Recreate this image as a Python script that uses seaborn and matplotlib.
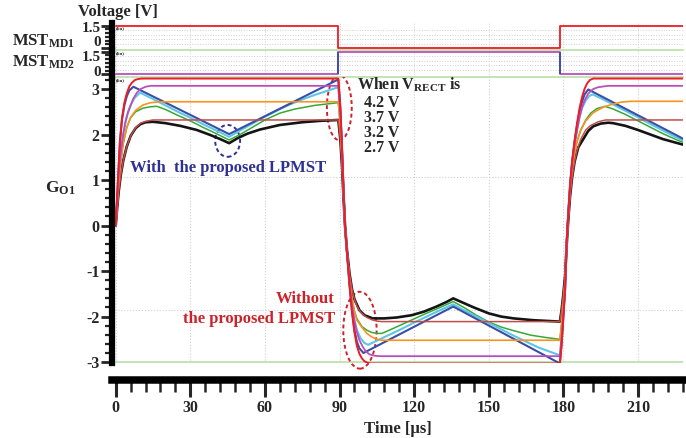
import pandas as pd
import matplotlib
matplotlib.use('Agg')
import matplotlib.pyplot as plt
from matplotlib.patches import Ellipse
from matplotlib.ticker import MultipleLocator
import seaborn as sns

# ---- data (time in us, G_O1 / voltage) ----
# without the proposed LPMST
t_red = [0, 0.5, 1, 1.7, 2.5, 3.5, 4.4, 5.5, 6.5, 7.8, 9, 10.5, 89.5,
         90.3, 91, 91.6, 92.2, 93, 94, 95, 96, 97, 98, 99, 100, 101, 102.5, 178.6,
         179.3, 180, 180.7, 181.3, 182, 182.7, 183.5, 184.5, 185.5, 186.5, 187.5, 188.5, 189.5, 190.7, 192, 228]
g_red = [0, 0.55, 1.1, 1.85, 2.35, 2.7, 2.9, 3.06, 3.14, 3.2, 3.22, 3.23, 3.23,
         2.6, 1.7, 0.8, 0.0, -0.6, -1.3, -1.9, -2.35, -2.65, -2.82, -2.92, -2.98, -3.01, -3.03, -3.03,
         -2.6, -2.0, -1.4, -0.4, 0.3, 0.9, 1.4, 1.85, 2.25, 2.58, 2.82, 3.0, 3.12, 3.2, 3.23, 3.23]

t_mag = [0, 0.6, 1.2, 2, 3, 4, 5, 5.8, 7, 8.5, 10, 12, 14, 89.5,
         90.3, 91, 91.6, 92.2, 93, 94, 95, 96, 97, 98, 99.3, 100.5, 102, 104, 106, 178.6,
         179.3, 180, 180.7, 181.3, 182, 182.7, 183.5, 184.5, 185.5, 186.5, 187.5, 188.5, 190, 192, 194, 198, 228]
g_mag = [0, 0.55, 1.1, 1.6, 2.0, 2.3, 2.5, 2.61, 2.78, 2.92, 3.0, 3.05, 3.07, 3.07,
         2.5, 1.65, 0.75, 0.0, -0.6, -1.25, -1.75, -2.1, -2.35, -2.52, -2.66, -2.76, -2.83, -2.86, -2.87, -2.87,
         -2.45, -1.9, -1.35, -0.4, 0.3, 0.85, 1.35, 1.78, 2.1, 2.38, 2.6, 2.75, 2.9, 3.0, 3.04, 3.07, 3.07]

t_org = [0, 0.6, 1.2, 2, 3, 4.4, 6, 8, 11, 14, 18, 89.5,
         90.3, 91, 91.6, 92.2, 93, 94, 95, 96, 97, 99.2, 101, 103, 105, 107, 178.6,
         179.3, 180, 180.7, 181.3, 182, 182.7, 183.5, 184.5, 185.5, 187, 189, 192, 196, 199.4, 203, 207, 228]
g_org = [0, 0.5, 0.95, 1.4, 1.8, 2.15, 2.38, 2.53, 2.65, 2.7, 2.72, 2.72,
         2.2, 1.5, 0.7, 0.0, -0.6, -1.2, -1.6, -1.9, -2.08, -2.25, -2.37, -2.45, -2.5, -2.52, -2.52,
         -2.15, -1.7, -1.25, -0.4, 0.25, 0.8, 1.25, 1.6, 1.85, 2.1, 2.3, 2.48, 2.6, 2.66, 2.71, 2.73, 2.73]

t_brn = [0, 0.6, 1.2, 2, 3, 4.4, 6, 8, 10, 12, 15, 89.5,
         90.3, 91, 91.6, 92.2, 93, 94, 95, 96, 97, 98, 99.5, 101, 103, 105, 107, 178.6,
         179.3, 180, 180.7, 181.3, 182, 182.7, 183.5, 184.5, 185.5, 187, 189, 191, 194, 197, 228]
g_brn = [0, 0.4, 0.75, 1.1, 1.42, 1.73, 1.97, 2.15, 2.25, 2.29, 2.32, 2.32,
         1.9, 1.3, 0.6, 0.0, -0.55, -1.05, -1.4, -1.62, -1.77, -1.87, -1.96, -2.02, -2.07, -2.1, -2.11, -2.11,
         -1.85, -1.5, -1.1, -0.45, 0.15, 0.65, 1.05, 1.4, 1.65, 1.9, 2.1, 2.2, 2.28, 2.32, 2.32]

# with the proposed LPMST
t_blk = [0, 0.6, 1.2, 2, 3, 4.4, 6, 8, 10, 12, 15, 20, 26, 32.6, 38, 42, 45.6, 49, 53, 58, 66, 75, 82, 89.5,
         90.3, 91, 91.6, 92.2, 93, 94, 95, 96, 98, 100, 103.3, 108, 113, 119, 124, 129, 133, 135.7, 139, 144, 150, 155, 160, 168, 178.6,
         179.3, 180, 180.7, 181.3, 182, 182.7, 183.5, 184.5, 186, 188, 190, 192, 195, 198, 200, 205, 210, 215, 220, 225.3, 228]
g_blk = [0, 0.4, 0.75, 1.1, 1.42, 1.73, 1.97, 2.14, 2.23, 2.27, 2.28, 2.25, 2.19, 2.1, 1.99, 1.9, 1.81, 1.92, 2.02, 2.11, 2.21, 2.27, 2.3, 2.32,
         1.9, 1.3, 0.6, 0.0, -0.55, -1.05, -1.4, -1.62, -1.86, -1.97, -2.04, -2.04, -2.02, -1.97, -1.89, -1.78, -1.68, -1.6, -1.68, -1.8, -1.93, -2.0, -2.04, -2.08, -2.11,
         -1.85, -1.5, -1.1, -0.45, 0.15, 0.65, 1.05, 1.4, 1.72, 1.9, 2.08, 2.18, 2.24, 2.26, 2.25, 2.19, 2.1, 2.0, 1.9, 1.82, 1.78]

t_grn = [0, 0.6, 1.2, 2, 3, 4.4, 6, 8, 11, 14, 16.5, 20, 25, 30, 35, 40, 45.6, 50, 55, 60, 66, 72, 80, 89.5,
         90.3, 91, 91.6, 92.2, 93, 94, 95, 96, 97, 99, 101, 103, 105, 107, 112, 118, 124, 130, 135.7, 140, 145, 150, 155, 160, 167, 173, 178.6,
         179.3, 180, 180.7, 181.3, 182, 182.7, 183.5, 184.5, 185.5, 187, 189, 191, 193.5, 196.7, 200, 205, 210, 215, 220, 225.3, 228]
g_grn = [0, 0.5, 0.95, 1.4, 1.8, 2.15, 2.37, 2.5, 2.58, 2.61, 2.62, 2.55, 2.42, 2.3, 2.16, 2.03, 1.88, 2.0, 2.16, 2.32, 2.47, 2.56, 2.64, 2.7,
         2.2, 1.5, 0.7, 0.0, -0.6, -1.2, -1.6, -1.88, -2.05, -2.22, -2.3, -2.35, -2.37, -2.37, -2.25, -2.1, -1.95, -1.81, -1.67, -1.8, -1.97, -2.12, -2.23, -2.31, -2.41, -2.46, -2.5,
         -2.15, -1.7, -1.25, -0.4, 0.25, 0.8, 1.25, 1.6, 1.85, 2.1, 2.32, 2.47, 2.57, 2.62, 2.56, 2.44, 2.3, 2.16, 2.02, 1.89, 1.83]

t_cyn = [0, 0.6, 1.2, 2, 3, 4, 5, 6, 7.5, 9.8, 15, 20, 25, 30, 35, 40, 45.6, 50, 55, 60, 65, 70, 75, 80, 85, 89.5,
         90.3, 91, 91.6, 92.2, 93, 94, 95, 96, 97, 98.5, 100, 101.5, 105, 110, 115, 120, 125, 130, 135.7, 140, 145, 150, 155, 160, 165, 170, 175, 178.6,
         179.3, 180, 180.7, 181.3, 182, 182.7, 183.5, 184.5, 185.5, 186.5, 187.5, 189, 190.5, 191.8, 195, 200, 205, 210, 215, 220, 225.3, 228]
g_cyn = [0, 0.55, 1.1, 1.6, 2.0, 2.3, 2.5, 2.65, 2.8, 2.92, 2.78, 2.64, 2.5, 2.37, 2.23, 2.1, 1.95, 2.09, 2.24, 2.39, 2.53, 2.66, 2.77, 2.87, 2.96, 3.04,
         2.5, 1.65, 0.75, 0.0, -0.6, -1.25, -1.75, -2.08, -2.3, -2.48, -2.58, -2.62, -2.53, -2.4, -2.27, -2.13, -2.0, -1.87, -1.73, -1.86, -2.0, -2.14, -2.28, -2.42, -2.55, -2.68, -2.78, -2.85,
         -2.45, -1.9, -1.35, -0.4, 0.3, 0.85, 1.35, 1.78, 2.1, 2.38, 2.58, 2.75, 2.85, 2.88, 2.8, 2.66, 2.52, 2.38, 2.23, 2.09, 1.94, 1.87]

t_blu = [0, 0.5, 1, 1.7, 2.5, 3.5, 4.5, 5.5, 7.1, 45.6, 89.5,
         90.3, 91, 91.6, 92.2, 93, 94, 95, 96, 97, 98, 99.6, 135.7, 178.6,
         179.3, 180, 180.7, 181.3, 182, 182.7, 183.5, 184.5, 185.5, 186.5, 187.5, 188.5, 190, 225.3, 228]
g_blu = [0, 0.55, 1.1, 1.85, 2.32, 2.65, 2.85, 2.97, 3.05, 2.01, 3.21,
         2.6, 1.7, 0.8, 0.0, -0.6, -1.3, -1.88, -2.3, -2.56, -2.7, -2.8, -1.78, -3.03,
         -2.6, -2.0, -1.4, -0.4, 0.3, 0.9, 1.4, 1.85, 2.2, 2.5, 2.72, 2.88, 2.99, 1.99, 1.91]

# switch control signals
t_sw = [0, 89.5, 89.5, 178.6, 178.6, 228]
mst_md1 = [1.5, 1.5, 0, 0, 1.5, 1.5]
mst_md2 = [0, 0, 1.5, 1.5, 0, 0]
t_edges = [89.5, 178.6]

vrect_labels = ['4.2 V', '3.7 V', '3.2 V', '2.7 V']

# curve name -> (t, g, colour, width), drawn in this order
curves = {
    'with 2.7 V': (t_blk, g_blk, '#141414', 1.9),
    'with 3.2 V': (t_grn, g_grn, '#36a836', 1.1),
    'with 3.7 V': (t_cyn, g_cyn, '#5cc6e6', 1.5),
    'with 4.2 V': (t_blu, g_blu, '#3a4ea6', 1.5),
    'without 2.7 V': (t_brn, g_brn, '#bf4d48', 1.1),
    'without 3.2 V': (t_org, g_org, '#f7941d', 1.2),
    'without 3.7 V': (t_mag, g_mag, '#b94fbd', 1.3),
    'without 4.2 V': (t_red, g_red, '#ee1c25', 1.4),
}

# ---- style ----
sns.set_theme(style='white')
plt.rcParams['font.family'] = ['Liberation Serif', 'DejaVu Serif']
plt.rcParams['font.weight'] = 'bold'
plt.rcParams['axes.unicode_minus'] = False
plt.rcParams['mathtext.fontset'] = 'custom'
plt.rcParams['mathtext.rm'] = 'Liberation Serif:bold'
plt.rcParams['mathtext.bf'] = 'Liberation Serif:bold'
plt.rcParams['mathtext.it'] = 'Liberation Serif:bold:italic'

W, H = 686, 438
fig = plt.figure(figsize=(W / 100, H / 100), dpi=100)


def px_axes(x0, y0, x1, y1):
    return fig.add_axes([x0 / W, 1 - y1 / H, (x1 - x0) / W, (y1 - y0) / H])


def px_text(x, y, s, **kw):
    kw.setdefault('va', 'center')
    fig.text(x / W, 1 - y / H, s, **kw)


XMIN, XMAX = -1.5, 228.1
GREEN = '#b9dfa6'
GRID = '#cfcfcf'

ax1 = px_axes(112, 23, 683, 50)
ax2 = px_axes(112, 50, 683, 77)
ax = px_axes(112, 77, 683, 363)

# ---- MST panels ----
for a, sig, col, lim in [(ax1, mst_md1, '#ee1c25', (-0.134, 1.68)),
                         (ax2, mst_md2, '#b94fbd', (-0.18, 1.61))]:
    for lv in [0.3, 0.6, 0.9, 1.2]:
        a.axhline(lv, color=GRID, ls=':', lw=0.7, zorder=0)
    for xv in range(0, 211, 30):
        a.axvline(xv, color=GRID, ls=':', lw=0.7, zorder=0)
    sns.lineplot(x=t_sw, y=sig, ax=a, color=col, lw=1.3, estimator=None, sort=False)
    a.set_xlim(XMIN, XMAX)
    a.set_ylim(*lim)
    a.set_xticks([])
    a.set_yticks([0, 1.5])
    a.set_yticklabels([])
    a.yaxis.set_minor_locator(MultipleLocator(0.25))
    a.tick_params(axis='y', which='major', direction='out', length=8, width=2, left=True)
    a.tick_params(axis='y', which='minor', direction='out', length=5, width=1.6, left=True)
    for s in ['top', 'right']:
        a.spines[s].set_visible(False)
    a.spines['left'].set_linewidth(4.5)
    a.spines['left'].set_color('black')
    a.spines['bottom'].set_color(GREEN)
    a.spines['bottom'].set_linewidth(1.2)
    a.set_xlabel('')
    a.set_ylabel('')
    a.patch.set_alpha(0)

ax2.vlines(t_edges, 0, 1.5, color='#3a4ea6', lw=1.3)

# ---- main G_O1 panel ----
for xv in range(0, 211, 30):
    ax.axvline(xv, color=GRID, ls=':', lw=0.8, zorder=0)
for lv in [1.07, -1.86]:
    ax.axhline(lv, color=GRID, ls=':', lw=0.8, zorder=0)
ax.axhline(-3.0, color=GREEN, lw=1.2, zorder=0)

for name, (tt, gg, col, lw) in curves.items():
    df = pd.DataFrame({'t': tt, 'g': gg})
    sns.lineplot(data=df, x='t', y='g', ax=ax, color=col, lw=lw, estimator=None, sort=False)

ax.set_xlim(XMIN, XMAX)
ax.set_ylim(-3.02, 3.264)
ax.set_xticks(range(0, 211, 30))
ax.xaxis.set_minor_locator(MultipleLocator(6))
ax.set_yticks(range(-3, 4))
ax.yaxis.set_minor_locator(MultipleLocator(0.2))
for s in ['top', 'right']:
    ax.spines[s].set_visible(False)
ax.spines['left'].set_linewidth(4.5)
ax.spines['left'].set_color('black')
ax.spines['bottom'].set_position(('outward', 12))
ax.spines['bottom'].set_linewidth(5.4)
ax.spines['bottom'].set_color('black')
ax.tick_params(axis='y', which='major', direction='out', length=8, width=2, left=True,
               labelsize=11.5, pad=1)
ax.tick_params(axis='y', which='minor', direction='out', length=5, width=1.6, left=True)
ax.tick_params(axis='x', which='major', direction='out', length=12, width=2.2, bottom=True,
               labelsize=11.5, pad=3)
ax.tick_params(axis='x', which='minor', direction='out', length=8.5, width=1.8, bottom=True)
ax.set_xlabel('Time [μs]', fontsize=12, fontweight='bold', labelpad=3)
ax.set_ylabel('')
ax.patch.set_alpha(0)

# dotted highlight ellipses
ax.add_patch(Ellipse((45, 1.86), 10, 0.7, fill=False, ec='#2e3192', ls=(0, (2, 1.5)), lw=1.4))
ax.add_patch(Ellipse((89.9, 2.59), 10, 1.43, fill=False, ec='#cc2229', ls=(0, (2, 1.5)), lw=1.4))
ax.add_patch(Ellipse((98.2, -2.3), 13.4, 1.69, fill=False, ec='#cc2229', ls=(0, (2, 1.5)), lw=1.4,
                     clip_on=False))

# ---- text ----
px_text(118, 12, 'Voltage [V]', ha='center', fontsize=12, fontweight='bold')
px_text(12, 41, r'MST$_{\rm MD1}$', ha='left', fontsize=12, fontweight='bold')
px_text(12, 62, r'MST$_{\rm MD2}$', ha='left', fontsize=12, fontweight='bold')
for y, s in [(28, '1.5'), (42.5, '0'), (57.5, '1.5'), (72, '0')]:
    px_text(101, y, s, ha='right', fontsize=11, fontweight='bold')
for y in [28, 53, 80]:
    px_text(116, y, '(lin)', ha='left', fontsize=3.5, fontweight='bold')
px_text(45, 188, r'G$_{\rm O1}$', ha='left', fontsize=12.5, fontweight='bold')
px_text(357, 85, r'When V$_{\rm RECT}$ is', ha='left', fontsize=11.5, fontweight='bold')
px_text(364, 95, '\n'.join(vrect_labels), ha='left', va='top', fontsize=11.5,
        fontweight='bold', linespacing=0.91)
px_text(130, 168, 'With  the proposed LPMST', ha='left', fontsize=12, fontweight='bold',
        color='#2e3192')
px_text(335, 299, 'Without', ha='right', fontsize=12, fontweight='bold', color='#cc2229')
px_text(335, 319, 'the proposed LPMST', ha='right', fontsize=12, fontweight='bold', color='#cc2229')

fig.savefig('out.png', dpi=100)
